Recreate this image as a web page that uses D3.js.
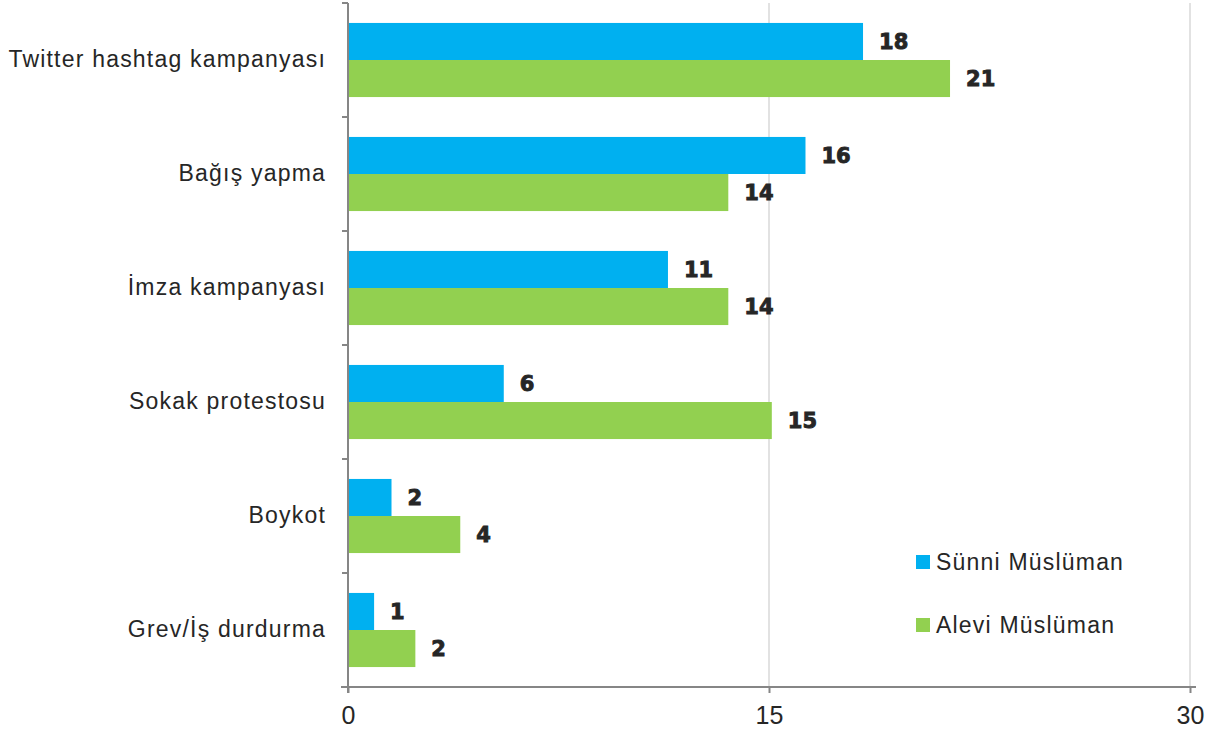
<!DOCTYPE html>
<html><head><meta charset="utf-8">
<script src="https://cdn.jsdelivr.net/npm/d3@7"></script>
<style>body{margin:0;background:#fff}svg{display:block}</style>
</head><body>
<svg id="c" width="1226" height="738"></svg>
<script>
const categories = ["Twitter hashtag kampanyası","Bağış yapma","İmza kampanyası","Sokak protestosu","Boykot","Grev/İş durdurma"];
const sunni = [18.35, 16.3, 11.4, 5.55, 1.55, 0.93];
const alevi = [21.45, 13.55, 13.55, 15.1, 4.0, 2.4];
const seriesNames = ["Sünni Müslüman","Alevi Müslüman"];
const colors = ["#00b0f0","#92d050"];
const xTicks = [0, 15, 30];

(function(){
const svg = d3.select("#c");
const pL = 348, pR = 1190, pT = 3, pB = 687;
const font = "'Liberation Sans', Arial, sans-serif";

const x = d3.scaleLinear().domain([0, 30]).range([pL, pR]);
const y = d3.scaleBand().domain(categories).range([pT, pB]).paddingInner(0.35).paddingOuter(0.175);
const sub = d3.scaleBand().domain([0,1]).range([0, y.bandwidth()]);

// gridlines
svg.append("g").selectAll("line").data(xTicks.filter(d => d > 0)).join("line")
  .attr("x1", d => x(d)).attr("x2", d => x(d)).attr("y1", pT).attr("y2", pB)
  .attr("stroke", "#d9d9d9").attr("stroke-width", 1.5);

const data = [];
categories.forEach((c, i) => {
  data.push({c, s: 0, v: sunni[i]});
  data.push({c, s: 1, v: alevi[i]});
});

svg.append("g").selectAll("rect").data(data).join("rect")
  .attr("x", x(0)).attr("y", d => y(d.c) + sub(d.s))
  .attr("width", d => x(d.v) - x(0)).attr("height", sub.bandwidth())
  .attr("fill", d => colors[d.s]);

svg.append("g").selectAll("text").data(data).join("text")
  .attr("x", d => x(d.v) + 16).attr("y", d => y(d.c) + sub(d.s) + sub.bandwidth() / 2)
  .attr("dy", "0.36em")
  .attr("font-family", "'DejaVu Sans', sans-serif").attr("font-weight", "bold")
  .attr("font-size", 21).attr("fill", "#262626")
  .attr("stroke", "#262626").attr("stroke-width", 0.9)
  .text(d => Math.round(d.v));

// x axis
const xAxis = d3.axisBottom(x).tickValues(xTicks).tickSize(6).tickSizeOuter(0).tickPadding(13);
const gx = svg.append("g").attr("transform", `translate(0,${pB})`).call(xAxis);
gx.select(".domain").attr("stroke", "#868686").attr("stroke-width", 2).attr("d", `M${pL - 7},0H${pR + 6}`);
gx.selectAll(".tick line").attr("stroke", "#868686").attr("stroke-width", 2);
gx.selectAll(".tick text").attr("font-family", font).attr("font-size", 25).attr("fill", "#262626");

// y axis
const bounds = categories.map(c => y(c) - y.step() * 0.175).concat([pB]);
const gy = svg.append("g").attr("transform", `translate(${pL},0)`).call(d3.axisLeft(y).tickSize(0).tickPadding(22));
gy.select(".domain").attr("stroke", "#868686").attr("stroke-width", 2).attr("d", `M0,${pT}V${pB + 6}`);
gy.selectAll(".tick text").attr("font-family", font).attr("font-size", 23).attr("letter-spacing", "1.2px").attr("fill", "#262626");
svg.append("g").selectAll("line").data(bounds).join("line")
  .attr("x1", pL - 6).attr("x2", pL).attr("y1", d => d).attr("y2", d => d)
  .attr("stroke", "#868686").attr("stroke-width", 2);

// legend
const lg = svg.append("g").selectAll("g").data(seriesNames).join("g")
  .attr("transform", (d, i) => `translate(916,${562 + i * 63})`);
lg.append("rect").attr("x", 0).attr("y", -7).attr("width", 14).attr("height", 14).attr("fill", (d, i) => colors[i]);
lg.append("text").attr("x", 20).attr("dy", "0.36em").attr("font-family", font).attr("font-size", 23).attr("letter-spacing", "1.2px").attr("fill", "#262626").text(d => d);
})();
</script>
</body></html>
